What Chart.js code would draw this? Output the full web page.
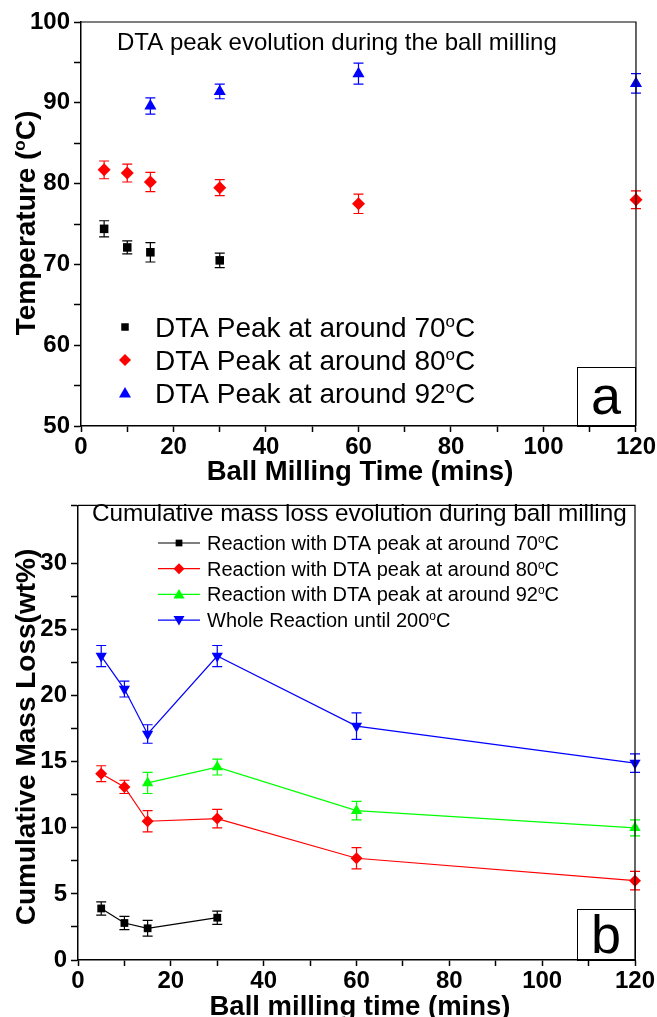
<!DOCTYPE html>
<html>
<head>
<meta charset="utf-8">
<script src="https://cdn.jsdelivr.net/npm/chart.js@4.4.1/dist/chart.umd.min.js"></script>
<style>
  body { margin: 0; background: #fff; width: 657px; height: 1017px; overflow: hidden; position: relative; }
  canvas { position: absolute; left: 0; }
  #chartA { top: 0; }
  #chartB { top: 487px; }
</style>
</head>
<body>
<canvas id="chartA" width="657" height="487"></canvas>
<canvas id="chartB" width="657" height="530"></canvas>
<script>
const FONT = '"Liberation Sans", Arial, sans-serif'

// (a) DTA peak temperature vs ball milling time
const timeA70 = [5, 10, 15, 30]
const peak70 = [74.4, 72.1, 71.5, 70.5]
const err70 = [1.0, 0.8, 1.2, 0.9]
const timeA80 = [5, 10, 15, 30, 60, 120]
const peak80 = [81.7, 81.3, 80.2, 79.5, 77.5, 78.0]
const err80 = [1.1, 1.1, 1.2, 1.0, 1.2, 1.1]
const timeA92 = [15, 30, 60, 120]
const peak92 = [89.6, 91.4, 93.6, 92.4]
const err92 = [1.0, 0.9, 1.3, 1.2]

// (b) cumulative mass loss vs ball milling time
const timeB70 = [5, 10, 15, 30]
const loss70 = [3.9, 2.8, 2.4, 3.2]
const lossErr70 = [0.5, 0.5, 0.6, 0.5]
const timeB80 = [5, 10, 15, 30, 60, 120]
const loss80 = [14.1, 13.1, 10.5, 10.7, 7.7, 6.0]
const lossErr80 = [0.6, 0.5, 0.8, 0.7, 0.8, 0.7]
const timeB92 = [15, 30, 60, 120]
const loss92 = [13.4, 14.6, 11.3, 10.0]
const lossErr92 = [0.8, 0.6, 0.7, 0.6]
const timeBAll = [5, 10, 15, 30, 60, 120]
const lossAll = [23.0, 20.5, 17.1, 23.0, 17.7, 14.9]
const lossErrAll = [0.8, 0.6, 0.7, 0.8, 1.0, 0.7]

const legendA = ["DTA Peak at around 70", "DTA Peak at around 80", "DTA Peak at around 92"]
const legendB = ["Reaction with DTA peak at around 70", "Reaction with DTA peak at around 80",
                 "Reaction with DTA peak at around 92", "Whole Reaction until 200"]

function pts(xs, ys) {
  return xs.map((x, i) => ({ x: x, y: ys[i] }))
}

function marker(ctx, style, x, y, r, color) {
  ctx.save()
  ctx.fillStyle = color
  ctx.beginPath()
  if (style === "square") {
    ctx.rect(x - r * 0.75, y - r * 0.75, r * 1.5, r * 1.5)
  } else if (style === "diamond") {
    ctx.moveTo(x, y - r); ctx.lineTo(x + r, y); ctx.lineTo(x, y + r); ctx.lineTo(x - r, y)
  } else if (style === "up") {
    ctx.moveTo(x, y - r); ctx.lineTo(x + r, y + r * 0.75); ctx.lineTo(x - r, y + r * 0.75)
  } else {
    ctx.moveTo(x, y + r); ctx.lineTo(x + r, y - r * 0.75); ctx.lineTo(x - r, y - r * 0.75)
  }
  ctx.closePath()
  ctx.fill()
  ctx.restore()
}

// text with a raised small "o" before the last part, e.g. 70 ^o C
function supText(ctx, pre, post, x, y, size, weight, align) {
  const big = weight + " " + size + "px " + FONT
  const small = weight + " " + Math.round(size * 0.62) + "px " + FONT
  ctx.font = big
  const w1 = ctx.measureText(pre).width
  const w3 = ctx.measureText(post).width
  ctx.font = small
  const w2 = ctx.measureText("o").width
  let x0 = x
  if (align === "center") x0 = x - (w1 + w2 + w3) / 2
  ctx.textAlign = "left"
  ctx.font = big
  ctx.fillText(pre, x0, y)
  ctx.font = small
  ctx.fillText("o", x0 + w1, y - size * 0.36)
  ctx.font = big
  ctx.fillText(post, x0 + w1 + w2, y)
}

const errorBars = {
  id: "errorBars",
  beforeDatasetsDraw(chart) {
    const ctx = chart.ctx
    const xs = chart.scales.x, ys = chart.scales.y
    chart.data.datasets.forEach(ds => {
      ctx.save()
      ctx.strokeStyle = ds.borderColor
      ctx.lineWidth = 1.2
      ds.data.forEach((p, i) => {
        const e = ds.errors[i]
        const px = xs.getPixelForValue(p.x)
        const y1 = ys.getPixelForValue(p.y - e)
        const y2 = ys.getPixelForValue(p.y + e)
        ctx.beginPath()
        ctx.moveTo(px, y1); ctx.lineTo(px, y2)
        ctx.moveTo(px - 5, y1); ctx.lineTo(px + 5, y1)
        ctx.moveTo(px - 5, y2); ctx.lineTo(px + 5, y2)
        ctx.stroke()
      })
      ctx.restore()
    })
  }
}

const frame = {
  id: "frame",
  afterDraw(chart) {
    const a = chart.chartArea, ctx = chart.ctx
    ctx.save()
    ctx.strokeStyle = "#000"
    ctx.lineWidth = 1.2
    ctx.beginPath()
    ctx.moveTo(a.left, a.top); ctx.lineTo(a.right, a.top); ctx.lineTo(a.right, a.bottom)
    ctx.stroke()
    ctx.restore()
  }
}

function axes(ymax, ystep, ylabelEvery, yWidth, xHeight) {
  const tickFont = { family: FONT, size: 24, weight: "bold" }
  return {
    x: {
      type: "linear", min: 0, max: 120,
      afterFit: s => { s.height = xHeight },
      ticks: { stepSize: 10, autoSkip: false, maxRotation: 0, color: "#000", font: tickFont, padding: 1,
               callback: v => v % 20 === 0 ? v : "" },
      grid: { drawOnChartArea: false, tickLength: 6, tickColor: "#000", tickWidth: 1.5 },
      border: { color: "#000", width: 1.5 }
    },
    y: {
      min: ymax[0], max: ymax[1],
      afterFit: s => { s.width = yWidth },
      ticks: { stepSize: ystep, autoSkip: false, color: "#000", font: tickFont, padding: 4,
               callback: v => v % ylabelEvery === 0 ? v : "" },
      grid: { drawOnChartArea: false, tickLength: 7, tickColor: "#000", tickWidth: 1.5 },
      border: { color: "#000", width: 1.5 }
    }
  }
}

function dataset(xs, ys, errs, color, style, r, line) {
  const ps = { square: "rect", diamond: "rectRot", up: "triangle", down: "triangle" }
  return {
    data: pts(xs, ys), errors: errs,
    borderColor: color, backgroundColor: color,
    pointBackgroundColor: color, pointBorderColor: color, pointBorderWidth: 0,
    pointStyle: ps[style], pointRotation: style === "down" ? 180 : 0,
    pointRadius: style === "square" ? r * 1.1 : r,
    showLine: line, borderWidth: 1.2, clip: false
  }
}

// ---- chart (a)
new Chart(document.getElementById("chartA"), {
  type: "scatter",
  data: {
    datasets: [
      dataset(timeA70, peak70, err70, "#000000", "square", 5.5, false),
      dataset(timeA80, peak80, err80, "#ff0000", "diamond", 6.5, false),
      dataset(timeA92, peak92, err92, "#0000ff", "up", 7, false)
    ]
  },
  options: {
    responsive: false, animation: false,
    layout: { padding: { top: 22, right: 21, left: 0, bottom: 0 } },
    plugins: { legend: { display: false }, tooltip: { enabled: false } },
    scales: axes([50, 100], 5, 10, 81, 61)
  },
  plugins: [errorBars, frame, {
    id: "textA",
    afterDraw(chart) {
      const ctx = chart.ctx
      ctx.save()
      ctx.fillStyle = "#000"
      ctx.textBaseline = "alphabetic"
      ctx.font = "24px " + FONT
      ctx.fillText("DTA peak evolution during the ball milling", 117, 50)
      const styles = ["square", "diamond", "up"]
      const colors = ["#000000", "#ff0000", "#0000ff"]
      legendA.forEach((t, i) => {
        const cy = 327 + i * 33
        marker(ctx, styles[i], 125, cy, i === 0 ? 5 : 6, colors[i])
        ctx.fillStyle = "#000"
        supText(ctx, t, "C", 155, cy + 10, 28, "normal", "left")
      })
      // panel label
      ctx.strokeStyle = "#000"
      ctx.lineWidth = 1
      ctx.strokeRect(577.5, 367.5, 58, 59)
      ctx.font = "54px " + FONT
      ctx.textAlign = "center"
      ctx.fillText("a", 606, 414)
      // axis titles
      ctx.font = "bold 27.5px " + FONT
      ctx.fillText("Ball Milling Time (mins)", 360, 480)
      ctx.restore()
      ctx.save()
      ctx.fillStyle = "#000"
      ctx.translate(35, 223)
      ctx.rotate(-Math.PI / 2)
      supText(ctx, "Temperature (", "C)", 0, 0, 28, "bold", "center")
      ctx.restore()
    }
  }]
})

// ---- chart (b)
new Chart(document.getElementById("chartB"), {
  type: "scatter",
  data: {
    datasets: [
      dataset(timeB70, loss70, lossErr70, "#000000", "square", 5, true),
      dataset(timeB80, loss80, lossErr80, "#ff0000", "diamond", 6, true),
      dataset(timeB92, loss92, lossErr92, "#00ff00", "up", 6.5, true),
      dataset(timeBAll, lossAll, lossErrAll, "#0000ff", "down", 6.5, true)
    ]
  },
  options: {
    responsive: false, animation: false,
    layout: { padding: { top: 8, right: 22, left: 0, bottom: 0 } },
    plugins: { legend: { display: false }, tooltip: { enabled: false } },
    scales: axes([0, 34.4], 2.5, 5, 78, 57)
  },
  plugins: [errorBars, frame, {
    id: "textB",
    afterDraw(chart) {
      const ctx = chart.ctx
      ctx.save()
      ctx.fillStyle = "#000"
      ctx.font = "24.3px " + FONT
      ctx.fillText("Cumulative mass loss evolution during ball milling", 92, 34)
      const styles = ["square", "diamond", "up", "down"]
      const colors = ["#000000", "#ff0000", "#00ff00", "#0000ff"]
      legendB.forEach((t, i) => {
        const cy = 56 + i * 25.7
        ctx.strokeStyle = colors[i]
        ctx.lineWidth = 1.2
        ctx.beginPath()
        ctx.moveTo(158, cy); ctx.lineTo(200, cy)
        ctx.stroke()
        marker(ctx, styles[i], 179, cy, i === 0 ? 4.5 : 5.5, colors[i])
        ctx.fillStyle = "#000"
        supText(ctx, t, "C", 207, cy + 7, 20, "normal", "left")
      })
      ctx.strokeStyle = "#000"
      ctx.lineWidth = 1
      ctx.strokeRect(577.5, 422.5, 58, 51)
      ctx.font = "54px " + FONT
      ctx.textAlign = "center"
      ctx.fillText("b", 606, 466)
      ctx.font = "bold 27.5px " + FONT
      ctx.fillText("Ball milling time (mins)", 360, 528)
      ctx.restore()
      ctx.save()
      ctx.fillStyle = "#000"
      ctx.translate(35, 250)
      ctx.rotate(-Math.PI / 2)
      ctx.font = "bold 28px " + FONT
      ctx.textAlign = "center"
      ctx.fillText("Cumulative Mass Loss(wt%)", 0, 0)
      ctx.restore()
    }
  }]
})
</script>
</body>
</html>
